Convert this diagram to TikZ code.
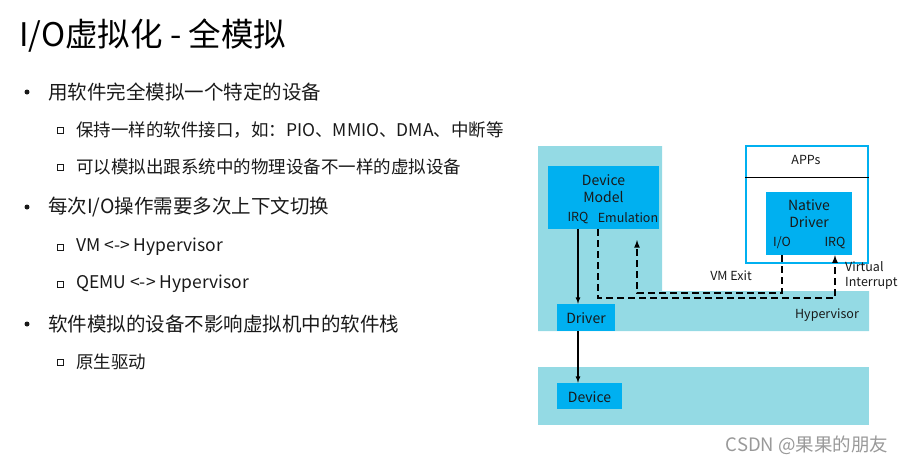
\documentclass[tikz,border=0pt]{standalone}
\usepackage{fontspec}
\setmainfont{Noto Sans CJK SC}
\definecolor{bandcyan}{RGB}{148,218,228}
\definecolor{boxblue}{RGB}{0,176,240}
\definecolor{inktext}{RGB}{25,25,25}
\begin{document}
\begin{tikzpicture}[x=1pt,y=-1pt,
    box/.style={fill=boxblue,inner sep=0,anchor=center},
    lbl/.style={inner sep=0,text=inktext,font=\fontsize{12.5}{15}\selectfont},
    big/.style={inner sep=0,text=inktext,align=center,font=\fontsize{14}{17}\selectfont},
    item/.style={inner sep=0,anchor=west,text=inktext,font=\fontsize{19.5}{22}\selectfont},
    subitem/.style={inner sep=0,anchor=west,text=inktext,font=\fontsize{17.5}{20}\selectfont},
    dline/.style={line width=1.6pt,dash pattern=on 7pt off 4pt,-latex},
    sline/.style={line width=1.2pt,-latex}]
\useasboundingbox (0,0) rectangle (908,464);
% title and bullets
\node[inner sep=0,anchor=west,font=\fontsize{32.5}{35}\selectfont] (title) at (19,36) {I/O虚拟化 - 全模拟};
\begin{scope}[text=inktext]
\node[item] (b1) at (48,92) {用软件完全模拟一个特定的设备};
\node[subitem] (s1) at (76,130) {保持一样的软件接口，如：PIO、MMIO、DMA、中断等};
\node[subitem] (s2) at (76,167) {可以模拟出跟系统中的物理设备不一样的虚拟设备};
\node[item] (b2) at (48,207) {每次I/O操作需要多次上下文切换};
\node[subitem] (s3) at (76,247) {VM <-> Hypervisor};
\node[subitem] (s4) at (76,284) {QEMU <-> Hypervisor};
\node[item] (b3) at (48,324) {软件模拟的设备不影响虚拟机中的软件栈};
\node[subitem] (s5) at (76,362) {原生驱动};
\end{scope}
\foreach \y in {92,207,324} \fill[inktext] (27,\y) circle (2.5pt);
\foreach \y in {130,167,247,284,362} \draw[inktext,line width=0.9pt] (57,\y-3) rectangle (63,\y+3);
% bands
\fill[bandcyan] (538,146) -- (662,146) -- (662,291) -- (869,291) -- (869,331) -- (538,331) -- cycle;
\fill[bandcyan] (538,367) rectangle (869,425);
% device model
\node[box,minimum width=111,minimum height=63] (model) at (603.5,197.5) {};
\node[big] (devmodel) at (603.5,189) {Device\\Model};
\node[lbl] (irqa) at (578,218) {IRQ};
\node[lbl] (emu) at (628,218) {Emulation};
% guest
\node[draw=boxblue,line width=1.5pt,minimum width=122,minimum height=117,inner sep=0] (apps) at (807,204.5) {};
\draw[line width=0.9pt] (apps.west |- 0,177) -- (apps.east |- 0,177);
\node[lbl] (appst) at (806,160) {APPs};
\node[box,minimum width=86,minimum height=63] (native) at (809,223.5) {};
\node[big] (nativet) at (809,213.5) {Native\\Driver};
\node[lbl] (nio) at (782,243) {I/O};
\node[lbl] (nirq) at (835,243) {IRQ};
% hypervisor and device
\node[box,minimum width=58,minimum height=27] (drv) at (586,317.5) {};
\node[big] (drvt) at (586,318) {Driver};
\node[box,minimum width=65,minimum height=26] (dev) at (589.5,396) {};
\node[big] (devt) at (589.5,397) {Device};
\node[lbl] (hyp) at (827,315) {Hypervisor};
\node[lbl] (vmexit) at (731,276) {VM Exit};
\node[lbl,anchor=west,align=left] (virq) at (845,275) {Virtual\\Interrupt};
% connectors
\coordinate (ret) at (835,298);
\coordinate (exitc) at (637,293);
\coordinate (emuin) at (637,240);
\draw[sline] (irqa.south |- model.south) -- (irqa.south |- drv.north);
\draw[sline] (irqa.south |- drv.south) -- (irqa.south |- dev.north);
\draw[dline] ([xshift=-5.5pt]model.south) |- (ret) -- (native.south -| nirq);
\draw[dline] (native.south -| nio) |- (exitc) -- (emuin);
% watermark
\node[inner sep=0,text=black!40,font=\fontsize{18.5}{21}\selectfont] (mark) at (807,445) {CSDN @果果的朋友};
\end{tikzpicture}
\end{document}
